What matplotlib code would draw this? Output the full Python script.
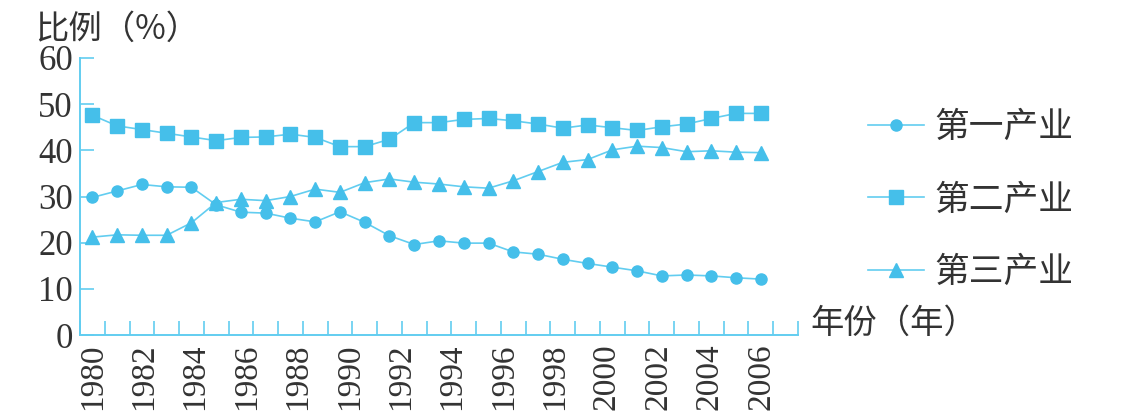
import numpy as np
import matplotlib
matplotlib.use("Agg")
import matplotlib.pyplot as plt

# values, one per plotted point
primary = [29.8, 31.2, 32.6, 32.1, 32.0, 28.2, 26.6, 26.4, 25.3, 24.5,
           26.7, 24.4, 21.5, 19.6, 20.4, 19.9, 19.9, 18.0, 17.5, 16.4,
           15.5, 14.7, 13.9, 12.8, 13.0, 12.8, 12.4, 12.1]
secondary = [47.6, 45.3, 44.5, 43.7, 42.9, 42.1, 42.8, 42.9, 43.5, 42.8,
             40.8, 40.8, 42.4, 46.0, 46.0, 46.7, 46.9, 46.4, 45.7, 44.8,
             45.5, 44.9, 44.3, 45.1, 45.7, 46.9, 48.0, 48.0]
tertiary = [21.2, 21.7, 21.6, 21.6, 24.3, 28.7, 29.4, 29.1, 30.0, 31.6,
            30.9, 33.0, 33.8, 33.1, 32.7, 32.1, 31.8, 33.4, 35.4, 37.4,
            38.0, 40.1, 40.9, 40.6, 39.7, 39.9, 39.6, 39.5]
year_labels = ["1980", "1982", "1984", "1986", "1988", "1990", "1992",
               "1994", "1996", "1998", "2000", "2002", "2004", "2006"]
series_names = ["第一产业", "第二产业", "第三产业"]

LINE_COLOR = "#62cdf0"
MARK_COLOR = "#45bfea"
TEXT_COLOR = "#333333"
CJK = ["Noto Sans CJK SC", "DejaVu Sans"]
NUM_FONT = "Liberation Serif"

fig = plt.figure(figsize=(11.3, 4.2), dpi=100)
ax = fig.add_axes([80 / 1130, 1 - 335 / 420, 718 / 1130, 277 / 420])

x = np.arange(len(primary))
styles = [("o", 8), ("s", 10), ("^", 10)]
for vals, name, (mk, ms) in zip([primary, secondary, tertiary], series_names, styles):
    ax.plot(x, vals, color=LINE_COLOR, lw=1.2, marker=mk, ms=ms,
            mfc=MARK_COLOR, mec=MARK_COLOR, label=name)

ax.set_xlim(-0.5, len(primary) + 0.5)
ax.set_ylim(0, 60)

for side in ("top", "right"):
    ax.spines[side].set_visible(False)
for side in ("left", "bottom"):
    ax.spines[side].set_color(LINE_COLOR)
    ax.spines[side].set_linewidth(1.4)

ax.set_yticks(range(0, 61, 10))
ax.tick_params(axis="y", direction="in", length=10, width=1.2, color=LINE_COLOR,
               labelsize=25, labelcolor=TEXT_COLOR, pad=5)
for lab in ax.get_yticklabels():
    lab.set_fontfamily(NUM_FONT)

# minor ticks mark the interval edges, year labels spread across the points
ax.set_xticks(np.arange(-0.5, len(primary) + 0.6, 1.0), minor=True)
ax.tick_params(axis="x", which="minor", direction="in", length=10, width=1.2,
               color=LINE_COLOR)
ax.set_xticks(np.linspace(0, len(primary) - 1, len(year_labels)))
ax.set_xticklabels(year_labels, rotation=90, fontfamily=NUM_FONT, fontsize=24,
                   color=TEXT_COLOR)
ax.tick_params(axis="x", which="major", length=0, pad=6)

fig.text(35 / 1130, 1 - 29 / 420, "比例（%）", family=CJK, fontsize=24,
         color=TEXT_COLOR, ha="left", va="center")
fig.text(810 / 1130, 1 - 323 / 420, "年份（年）", family=CJK, fontsize=24,
         color=TEXT_COLOR, ha="left", va="center")

fig.legend(loc="upper left", bbox_to_anchor=(868 / 1130, 1 - 110 / 420),
           frameon=False, prop={"family": CJK, "size": 25}, labelcolor=TEXT_COLOR,
           handlelength=1.6, handletextpad=0.3, labelspacing=1.08,
           borderaxespad=0, borderpad=0)

fig.savefig("out.png", dpi=100)
